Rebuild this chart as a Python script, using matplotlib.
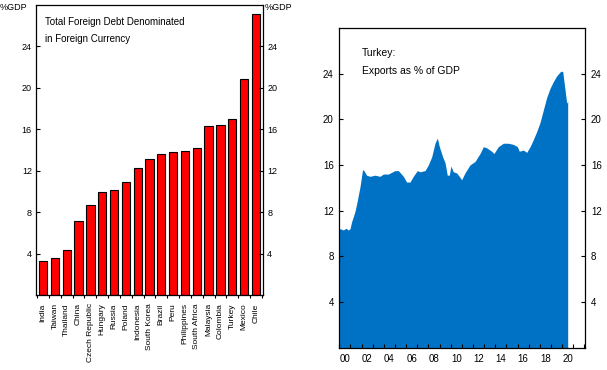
import matplotlib
matplotlib.use("Agg")
import matplotlib.pyplot as plt
import numpy as np

plt.rcParams['font.family'] = ['Liberation Sans', 'DejaVu Sans']

countries = ["India", "Taiwan", "Thailand", "China", "Czech Republic", "Hungary",
             "Russia", "Poland", "Indonesia", "South Korea", "Brazil", "Peru",
             "Philippines", "South Africa", "Malaysia", "Colombia", "Turkey",
             "Mexico", "Chile"]
debt = [3.25, 3.6, 4.3, 7.1, 8.7, 9.9, 10.1, 10.9, 12.3, 13.1, 13.6, 13.8,
        13.9, 14.2, 16.3, 16.4, 17.0, 20.9, 27.1]

exp_years = [2000.0, 2000.12, 2000.36, 2000.6, 2000.8, 2000.96, 2001.1, 2001.4,
             2001.56, 2001.86, 2002.09, 2002.21, 2002.45, 2002.75, 2003.2, 2003.65,
             2003.95, 2004.4, 2005.0, 2005.3, 2005.75, 2006.04, 2006.34, 2006.64,
             2007.0, 2007.24, 2007.69, 2007.99, 2008.29, 2008.59, 2008.8, 2008.98,
             2009.28, 2009.49, 2009.69, 2009.87, 2010.02, 2010.23, 2010.53, 2010.77,
             2010.98, 2011.28, 2011.73, 2012.18, 2012.63, 2012.93, 2013.23, 2013.67,
             2013.88, 2014.27, 2014.72, 2015.17, 2015.62, 2015.98, 2016.16, 2016.52,
             2016.82, 2017.12, 2017.36, 2017.71, 2018.01, 2018.31, 2018.61, 2018.91,
             2019.21, 2019.51, 2019.87, 2020.05, 2020.26, 2020.41, 2020.5]
exp_values = [10.4, 10.4, 10.3, 10.45, 10.3, 10.4, 11.0, 11.9,
              12.6, 14.1, 15.6, 15.5, 15.1, 15.0, 15.1, 15.0,
              15.2, 15.2, 15.5, 15.5, 15.0, 14.5, 14.5, 15.0,
              15.5, 15.4, 15.5, 16.0, 16.7, 17.9, 18.35, 17.6,
              16.7, 16.2, 15.1, 15.1, 15.9, 15.4, 15.3, 15.0,
              14.7, 15.3, 16.0, 16.3, 17.0, 17.6, 17.5, 17.2,
              17.0, 17.6, 17.9, 17.9, 17.8, 17.6, 17.2, 17.3,
              17.1, 17.6, 18.1, 18.9, 19.7, 20.8, 21.9, 22.7,
              23.3, 23.8, 24.2, 24.2, 22.6, 21.4, 21.6]

yticks = [4, 8, 12, 16, 20, 24]
year_labels = ["00", "02", "04", "06", "08", "10", "12", "14", "16", "18", "20"]

W, H = 607, 370
fig = plt.figure(figsize=(W / 100, H / 100), dpi=100)

# ---------- left panel ----------
L1, T1, W1, H1 = 36, 5, 227, 290
ax1 = fig.add_axes([L1 / W, 1 - (T1 + H1) / H, W1 / W, H1 / H])
x = np.arange(len(countries))
ax1.bar(x, debt, width=0.7, color="#FF0000", edgecolor="black", linewidth=0.8)
ax1.set_xlim(-0.6, len(countries) - 0.4)
ax1.set_ylim(0, 28)
ax1.set_yticks(yticks)
ax1.set_yticklabels([str(v) for v in yticks])
ax1.tick_params(axis="y", which="both", direction="in", length=3, width=0.8,
                labelsize=6.5, left=True, right=True, labelleft=True,
                labelright=True, pad=3)
ax1.set_xticks(x)
ax1.set_xticklabels(countries, rotation=90, fontsize=6)
ax1.tick_params(axis="x", which="major", length=0, pad=6)
ax1.set_xticks(np.arange(-0.5, len(countries)), minor=True)
ax1.tick_params(axis="x", which="minor", direction="out", length=2, width=0.8)
for s in ax1.spines.values():
    s.set_linewidth(0.9)
ax1.text((45 - L1) / W1, 1 - (17 - T1) / H1,
         "Total Foreign Debt Denominated\nin Foreign Currency",
         transform=ax1.transAxes, fontsize=7, va="top", ha="left", linespacing=1.9)
fig.text(27 / W, 1 - 8 / H, "%GDP", fontsize=6.5, ha="right", va="center")
fig.text(265 / W, 1 - 8 / H, "%GDP", fontsize=6.5, ha="left", va="center")

# ---------- right panel ----------
L2, T2, W2, H2 = 339.3, 28, 246, 319.5
ax2 = fig.add_axes([L2 / W, 1 - (T2 + H2) / H, W2 / W, H2 / H])
ax2.fill_between(exp_years, 0, exp_values, color="#0072C6", linewidth=0)
ax2.set_xlim(2000, 2022.08)
ax2.set_ylim(0, 28)
ax2.set_yticks(yticks)
ax2.set_yticklabels([str(v) for v in yticks])
ax2.tick_params(axis="y", which="both", direction="in", length=3, width=0.8,
                labelsize=7, left=True, right=True, labelleft=True,
                labelright=True, pad=4)
ax2.set_xticks(np.arange(2000, 2023))
ax2.set_xticklabels([])
ax2.tick_params(axis="x", which="major", direction="in", length=3, width=0.8)
ax2.set_xticks(np.arange(2000.5, 2021, 2), minor=True)
ax2.set_xticklabels(year_labels, minor=True, fontsize=7)
ax2.tick_params(axis="x", which="minor", length=0, pad=5)
for s in ax2.spines.values():
    s.set_linewidth(0.9)
ax2.text((362 - L2) / W2, 1 - (48 - T2) / H2, "Turkey:\nExports as % of GDP",
         transform=ax2.transAxes, fontsize=7.5, va="top", ha="left",
         linespacing=2.0)
fig.savefig("out.png", dpi=100)
